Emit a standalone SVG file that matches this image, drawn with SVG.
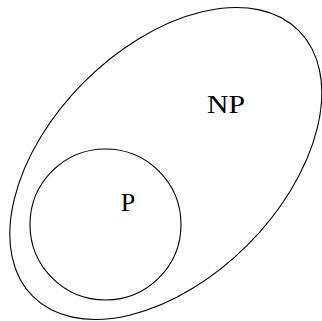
<svg xmlns="http://www.w3.org/2000/svg" width="322" height="321" viewBox="0 0 322 321">
<style>
.shape{fill:none;stroke:#000;stroke-width:1.1}
.lbl{font-family:"Liberation Serif","DejaVu Serif",serif;font-size:26px;fill:#000;text-anchor:middle}
</style>
<rect width="322" height="321" fill="#fff"/>
<g id="NP">
<ellipse class="shape" cx="165.8" cy="163.5" rx="188" ry="115.4" transform="rotate(-45 165.8 163.5)"/>
<text class="lbl" x="226" y="113" textLength="38" lengthAdjust="spacingAndGlyphs">NP</text>
</g>
<g id="P">
<circle class="shape" cx="105.5" cy="224.5" r="75.5"/>
<text class="lbl" x="128" y="211">P</text>
</g>
<g id="connectors"></g>
</svg>
